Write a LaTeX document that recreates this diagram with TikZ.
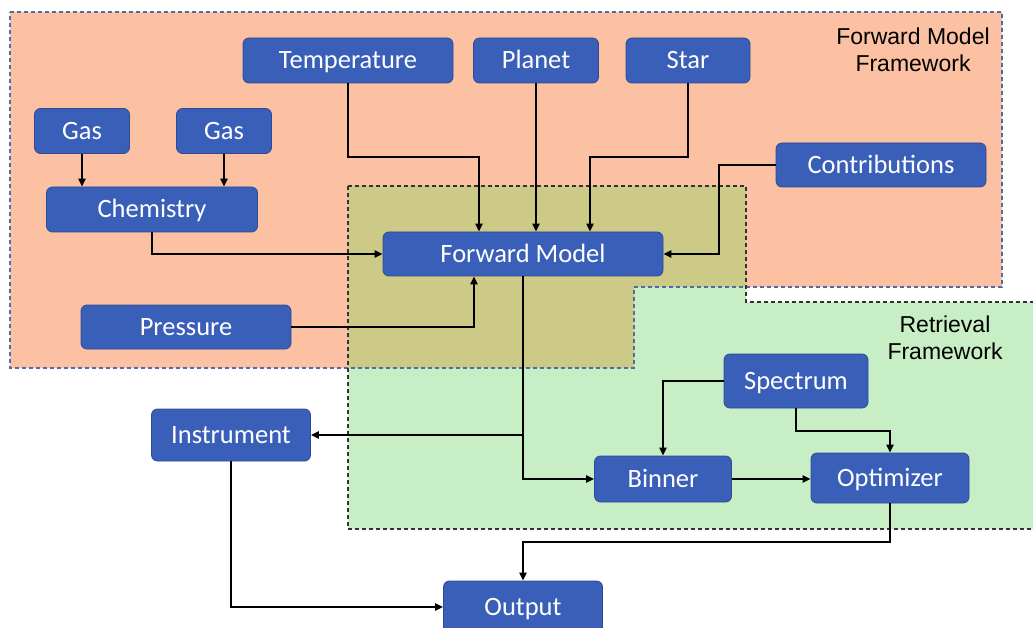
\documentclass[tikz,border=0pt]{standalone}
\usepackage{fontspec}
\setmainfont{Carlito}
\newfontfamily\labelfont{Liberation Sans}
\usetikzlibrary{arrows.meta,calc}

\definecolor{fmorange}{RGB}{252,193,162}
\definecolor{rtgreen}{RGB}{199,238,196}
\definecolor{bothfill}{RGB}{205,201,135}
\definecolor{boxblue}{RGB}{58,95,184}
\definecolor{boxedge}{RGB}{44,74,148}
\definecolor{frameblue}{RGB}{78,108,168}

\begin{document}
\begin{tikzpicture}[x=1pt,y=-1pt,
  box/.style={draw=boxedge, line width=0.8pt, fill=boxblue, rounded corners=6pt,
    text=white, inner sep=0pt, text height=17pt, text depth=0pt,
    font=\fontsize{26.5}{31}\selectfont},
  arr/.style={line width=2pt, -{Triangle[length=8pt,width=7pt]}},
  framefm/.style={draw=frameblue, line width=1.2pt, dash pattern=on 4pt off 3pt},
  framert/.style={draw=black!80, line width=1.2pt, dash pattern=on 4pt off 3pt},
  lbl/.style={align=center, font=\labelfont\fontsize{23}{27}\selectfont}]
\useasboundingbox (0,0) rectangle (1033,628);

% framework areas
\fill[fmorange] (10,12) -- (1002,12) -- (1002,287) -- (634,287) -- (634,368) -- (10,368) -- cycle;
\fill[rtgreen] (348,186) -- (746,186) -- (746,302) -- (1036,302) -- (1036,529) -- (348,529) -- cycle;
\fill[bothfill] (348,186) -- (746,186) -- (746,287) -- (634,287) -- (634,368) -- (348,368) -- cycle;
\draw[framefm] (10,12) -- (1002,12) -- (1002,287) -- (634,287) -- (634,368) -- (10,368) -- cycle;
\draw[framert] (348,186) -- (746,186) -- (746,302) -- (1036,302) -- (1036,529) -- (348,529) -- cycle;

\node[lbl] (fmlabel) at (913,50) {Forward Model\\Framework};
\node[lbl] (rtlabel) at (945,338) {Retrieval\\Framework};

% blocks
\node[box, minimum width=210pt, minimum height=45pt] (temp) at (348,60.5) {Temperature};
\node[box, minimum width=125pt, minimum height=45pt] (planet) at (536,60.5) {Planet};
\node[box, minimum width=124pt, minimum height=45pt] (star) at (688,60.5) {Star};
\node[box, minimum width=95pt, minimum height=45pt] (gasA) at (82,131) {Gas};
\node[box, minimum width=95pt, minimum height=45pt] (gasB) at (224,131) {Gas};
\node[box, minimum width=211pt, minimum height=45pt] (chem) at (152,209.5) {Chemistry};
\node[box, minimum width=210pt, minimum height=44pt] (contrib) at (881,165) {Contributions};
\node[box, minimum width=280pt, minimum height=44pt] (fm) at (523,254) {Forward Model};
\node[box, minimum width=210pt, minimum height=44pt] (press) at (186,327) {Pressure};
\node[box, minimum width=144pt, minimum height=54pt] (spec) at (796,381) {Spectrum};
\node[box, minimum width=137pt, minimum height=46pt] (binner) at (663,479) {Binner};
\node[box, minimum width=158pt, minimum height=50pt] (opt) at (890,478) {Optimizer};
\node[box, minimum width=159pt, minimum height=52pt] (instr) at (231,435) {Instrument};
\node[box, minimum width=159pt, minimum height=52pt] (output) at (523,607) {Output};

% connectors
\draw[arr] (gasA.south) -- (gasA.south |- chem.north);
\draw[arr] (gasB.south) -- (gasB.south |- chem.north);
\draw[arr] (temp.south) -- ++(0,74) -| ([xshift=-44pt]fm.north);
\draw[arr] (planet.south) -- (planet.south |- fm.north);
\draw[arr] (star.south) -- ++(0,74) -| ([xshift=67pt]fm.north);
\draw[arr] (contrib.west) -- ++(-57,0) |- (fm.east);
\draw[arr] (chem.south) |- (fm.west);
\draw[arr] (press.east) -| ([xshift=-49pt]fm.south);
\draw[arr] (fm.south) |- (instr.east);
\draw[arr] (fm.south) |- (binner.west);
\draw[arr] (spec.west) -| (binner.north);
\draw[arr] (spec.south) -- ++(0,23) -| (opt.north);
\draw[arr] (binner.east) -- (binner.east -| opt.west);
\draw[arr] (opt.south) -- ++(0,39) -| (output.north);
\draw[arr] (instr.south) |- (output.west);
\end{tikzpicture}
\end{document}
